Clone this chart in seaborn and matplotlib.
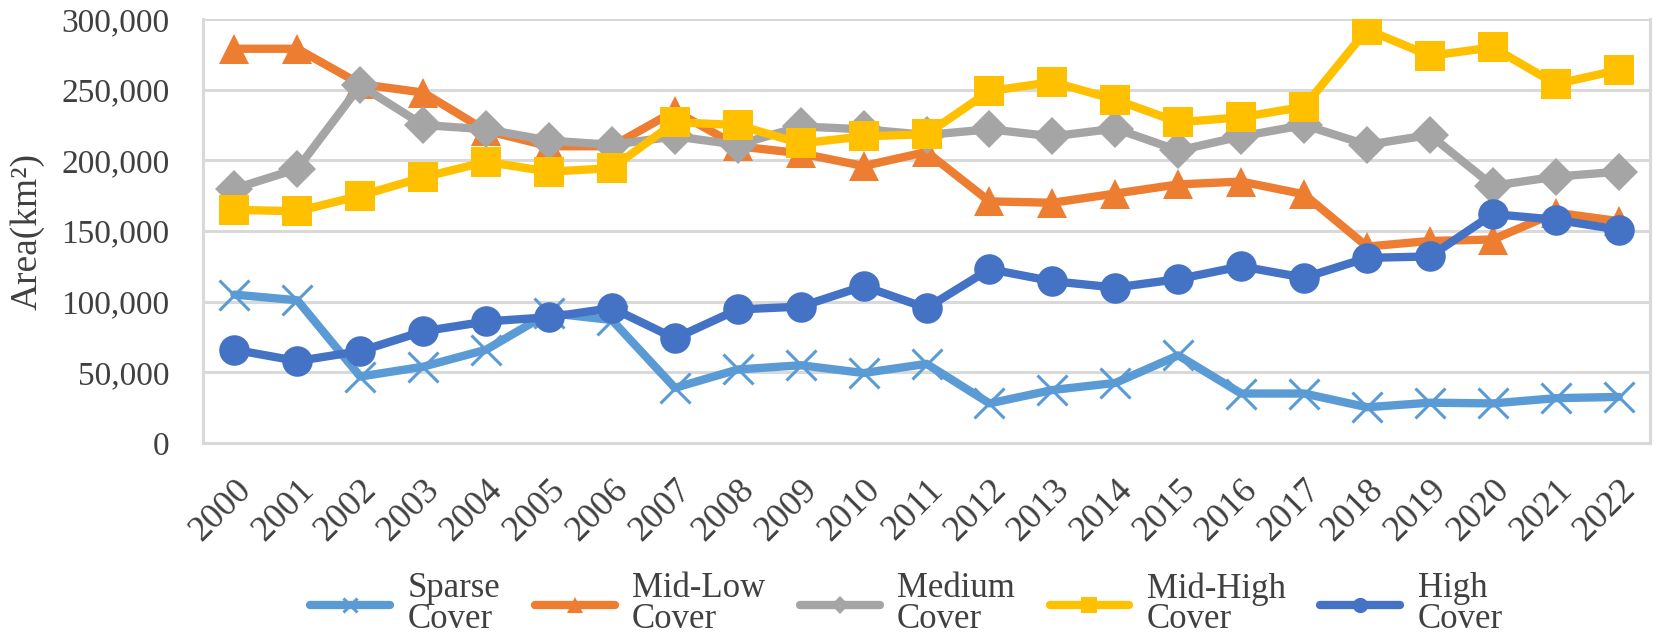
import numpy as np
import pandas as pd
import matplotlib
matplotlib.use("Agg")
import matplotlib.pyplot as plt
import seaborn as sns
from matplotlib.ticker import FuncFormatter

# values (km2)
years = [str(y) for y in range(2000, 2023)]
sparse = [105000, 101000, 47000, 54000, 66000, 92000, 87000, 39000, 52000, 55000, 49500, 56000,
          28000, 37500, 42500, 62000, 35000, 35000, 25300, 28500, 28000, 31700, 32600]
mid_low = [279000, 279000, 254000, 248000, 221000, 210000, 210000, 235000, 210000, 205000, 196000, 206000,
           171000, 170000, 176500, 183000, 185000, 176000, 139000, 143000, 144000, 163000, 157000]
medium = [180000, 194000, 253000, 225000, 222000, 214000, 211000, 217000, 211000, 224000, 222000, 218000,
          222000, 217000, 222500, 207000, 217000, 225000, 211000, 218000, 182000, 188500, 192000]
mid_high = [165000, 164000, 175000, 188000, 199000, 192000, 194500, 227000, 225000, 212000, 217000, 218500,
            249000, 255500, 243000, 227000, 230500, 238000, 292500, 274000, 280000, 254000, 264000]
high = [66000, 58000, 65000, 79000, 86000, 89000, 95500, 74000, 94500, 96500, 111000, 95500,
        123000, 114500, 110000, 116000, 125000, 117000, 131000, 132000, 162000, 158000, 151000]

series = [
    ("Sparse\nCover", sparse, "#5B9BD5", "x"),
    ("Mid-Low\nCover", mid_low, "#ED7D31", "^"),
    ("Medium\nCover", medium, "#A5A5A5", "D"),
    ("Mid-High\nCover", mid_high, "#FFC000", "s"),
    ("High\nCover", high, "#4472C4", "o"),
]

sns.set_theme(style="white")
plt.rcParams["font.family"] = ["Liberation Serif", "DejaVu Serif"]

fig = plt.figure(figsize=(16.54, 6.36), dpi=100)
ax = fig.add_axes([0.1227, 0.3035, 0.875, 0.6665])

idx = np.arange(len(years))
for name, vals, color, mk in series:
    df = pd.DataFrame({"x": idx, "y": vals})
    if mk == "x":
        kw = dict(markersize=21, markeredgewidth=2.2)
    elif mk == "D":
        kw = dict(markersize=19, markeredgewidth=0)
    elif mk == "^":
        kw = dict(markersize=22, markeredgewidth=0)
    else:
        kw = dict(markersize=22, markeredgewidth=0)
    sns.lineplot(data=df, x="x", y="y", ax=ax, color=color, marker=mk,
                 linewidth=6, label=name, markeredgecolor=color, **kw)

ax.set_xlim(-0.5, len(years) - 0.5)
ax.set_ylim(0, 300000)
ax.set_yticks(range(0, 300001, 50000))
ax.yaxis.set_major_formatter(FuncFormatter(lambda v, p: f"{int(v):,}"))
ax.set_xticks(idx)
ax.set_xticklabels(years, rotation=45, ha="right", rotation_mode="anchor")
ax.tick_params(axis="x", pad=22, length=0, labelsize=26, labelcolor="#404040")
ax.tick_params(axis="y", pad=24, length=0, labelsize=24, labelcolor="#404040")
ax.grid(axis="y", color="#D9D9D9", linewidth=2.2)
ax.set_axisbelow(True)
for side in ["left", "right", "bottom"]:
    ax.spines[side].set_color("#D9D9D9")
    ax.spines[side].set_linewidth(2.2)
ax.spines["top"].set_visible(False)
ax.set_xlabel("")
ax.set_ylabel("Area(km²)", fontsize=27, color="#404040", labelpad=12)

ax.get_legend().remove()
handles, labels = ax.get_legend_handles_labels()
leg = fig.legend(handles, labels, loc="center", bbox_to_anchor=(0.548, 0.05), ncol=5,
                 frameon=False, markerscale=0.5, handlelength=2.3,
                 handletextpad=0.5, columnspacing=1.0, prop={"size": 25})
for t in leg.get_texts():
    t.set_color("#404040")
    t.set_linespacing(0.9)

fig.savefig("out.png", dpi=100)
